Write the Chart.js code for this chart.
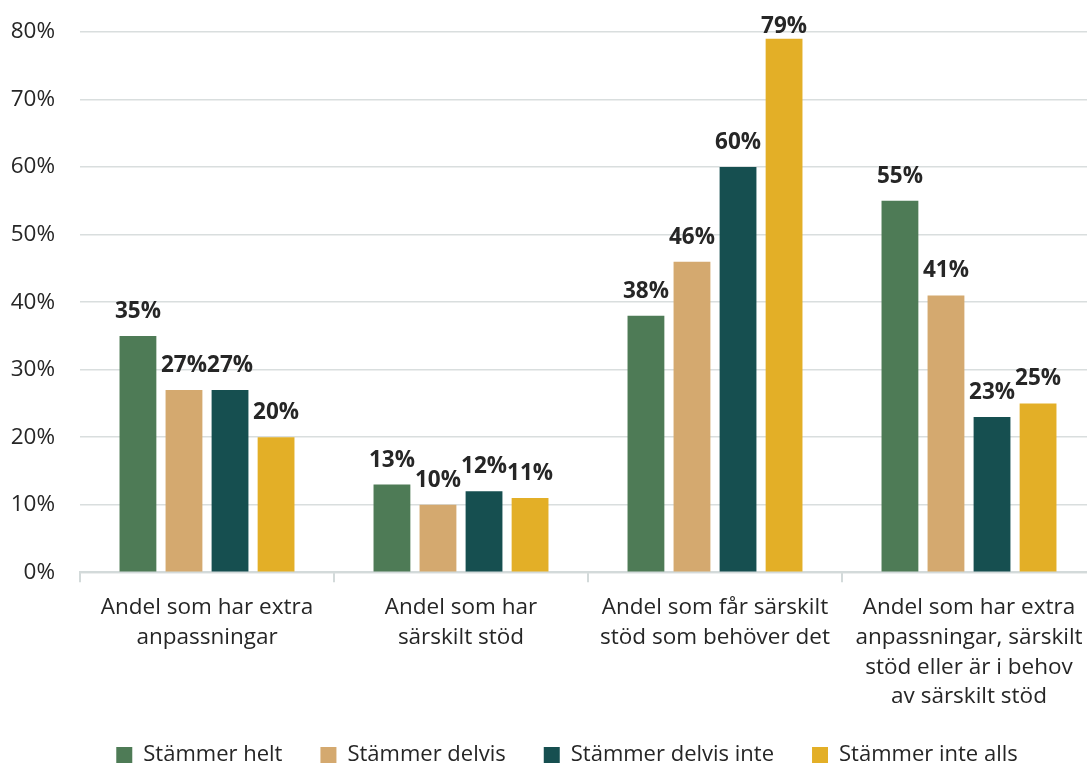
<!DOCTYPE html>
<html>
<head>
<meta charset="utf-8">
<script src="https://cdn.jsdelivr.net/npm/chart.js@4"></script>
<style>
  body { margin: 0; overflow: hidden; background: #fff; }
  #wrap { width: 1096px; height: 767px; }
</style>
</head>
<body>
<div id="wrap"><canvas id="myChart"></canvas></div>
<script>
const categories = [
    ['Andel som har extra', 'anpassningar'],
    ['Andel som har', 'särskilt stöd'],
    ['Andel som får särskilt', 'stöd som behöver det'],
    ['Andel som har extra', 'anpassningar, särskilt', 'stöd eller är i behov', 'av särskilt stöd']
];
const helt = [35, 13, 38, 55];
const delvis = [27, 10, 46, 41];
const delvisInte = [27, 12, 60, 23];
const inteAlls = [20, 11, 79, 25];
const yTicks = [0, 10, 20, 30, 40, 50, 60, 70, 80];

const fontFamily = '"Open Sans", "Noto Sans", sans-serif';
const textColor = '#262626';

// draws the bold value labels above every bar (kept inside the plot at the top)
const valueLabels = {
    id: 'valueLabels',
    afterDatasetsDraw(chart) {
        const ctx = chart.ctx;
        const top = chart.chartArea.top;
        ctx.save();
        ctx.font = 'bold 22.5px ' + fontFamily;
        ctx.fillStyle = textColor;
        ctx.textAlign = 'center';
        ctx.textBaseline = 'alphabetic';
        chart.data.datasets.forEach((ds, i) => {
            chart.getDatasetMeta(i).data.forEach((bar, j) => {
                ctx.fillText(ds.data[j] + '%', bar.x, Math.max(bar.y - 18, top + 1));
            });
        });
        ctx.restore();
    }
};

// legend needs wide gaps between items but a short box, and it is not centred on the canvas
const legendTweak = {
    id: 'legendTweak',
    afterInit(chart) {
        const lg = chart.legend;
        const fit = lg.fit;
        lg.fit = function () {
            fit.call(this);
            this.height = 45;
        };
    },
    afterLayout(chart) {
        const lg = chart.legend;
        lg.left += 19; lg.right += 19;
        lg.top -= 16; lg.height += 16; // bottom stays, so nothing gets clipped
    }
};

const ctx = document.getElementById('myChart').getContext('2d');
const myChart = new Chart(ctx, {
    type: 'bar',
    data: {
        labels: categories,
        datasets: [
            { label: 'Stämmer helt', data: helt, backgroundColor: '#4E7B56' },
            { label: 'Stämmer delvis', data: delvis, backgroundColor: '#D4A96F' },
            { label: 'Stämmer delvis inte', data: delvisInte, backgroundColor: '#164F50' },
            { label: 'Stämmer inte alls', data: inteAlls, backgroundColor: '#E3AF27' }
        ]
    },
    options: {
        responsive: true,
        maintainAspectRatio: false,
        animation: false,
        datasets: { bar: { categoryPercentage: 0.725, barPercentage: 0.8 } },
        layout: { padding: { top: 32, left: 0, right: 0, bottom: 0 } },
        plugins: {
            legend: {
                position: 'bottom',
                labels: {
                    boxWidth: 16,
                    boxHeight: 16,
                    padding: 38,
                    color: textColor,
                    font: { family: fontFamily, size: 22, lineHeight: 1.1 }
                }
            },
            tooltip: { enabled: false }
        },
        scales: {
            x: {
                grid: {
                    drawOnChartArea: false,
                    drawTicks: true,
                    tickLength: 10,
                    color: '#D3DADA',
                    lineWidth: 2
                },
                border: { color: '#D3DADA', width: 2 },
                ticks: {
                    color: textColor,
                    font: { family: fontFamily, size: 22.5, lineHeight: 1.33 },
                    maxRotation: 0,
                    padding: 10
                }
            },
            y: {
                min: 0,
                max: 80,
                afterBuildTicks: axis => { axis.ticks = yTicks.map(v => ({ value: v })); },
                afterFit: axis => {
                    axis.width = 80;
                    axis.paddingTop = 0;
                    axis.paddingBottom = 0;
                },
                grid: { color: '#D9DEDE', lineWidth: 1.5, drawTicks: false },
                border: { display: false },
                ticks: {
                    color: textColor,
                    font: { family: fontFamily, size: 22.5 },
                    padding: 25,
                    callback: v => v + '%'
                }
            }
        }
    },
    plugins: [valueLabels, legendTweak]
});
</script>
</body>
</html>
